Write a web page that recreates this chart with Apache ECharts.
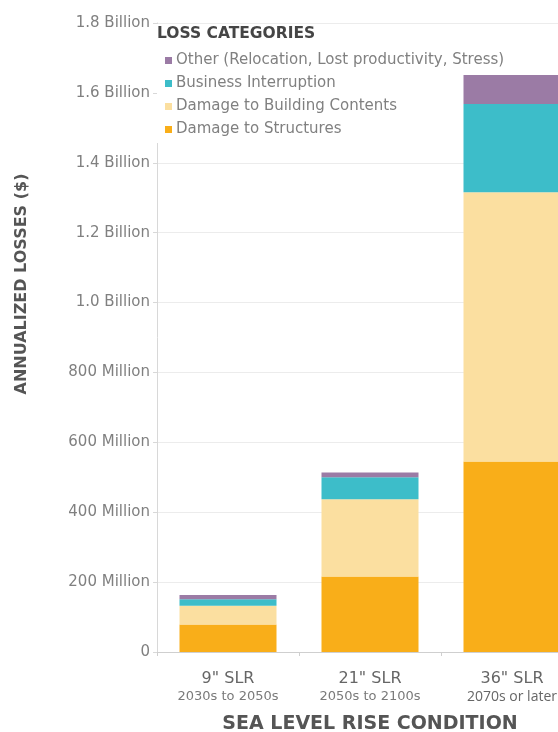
<!DOCTYPE html>
<html><head><meta charset="utf-8">
<script src="https://cdn.jsdelivr.net/npm/echarts@6/dist/echarts.min.js"></script>
<style>html,body{margin:0;padding:0;background:#fff}#c{width:558px;height:732px}</style>
</head><body><div id="c"></div>
<script>
// Data (values in millions of dollars)
const categories = ['9" SLR', '21" SLR', '36" SLR'];
const periods = ['2030s to 2050s', '2050s to 2100s', '2070s or later'];
const structures = [79, 216, 545];
const contents = [53, 221, 771];
const business = [19, 63, 252];
const other = [12, 14, 83];
const yTickLabels = ['0', '200 Million', '400 Million', '600 Million', '800 Million',
  '1.0 Billion', '1.2 Billion', '1.4 Billion', '1.6 Billion', '1.8 Billion'];
const legendTitle = 'LOSS CATEGORIES';
const names = {
  other: 'Other (Relocation, Lost productivity, Stress)',
  business: 'Business Interruption',
  contents: 'Damage to Building Contents',
  structures: 'Damage to Structures'
};

const FONT = 'DejaVu Sans';
const chart = echarts.init(document.getElementById('c'), null, {renderer: 'canvas'});
const mk = (name, data, color) => ({
  name, type: 'bar', stack: 'loss', data, barWidth: 97, z: 5,
  itemStyle: {color}, emphasis: {disabled: true}
});
chart.setOption({
  animation: false,
  backgroundColor: '#fff',
  title: {
    text: legendTitle, left: 152, top: 21,
    textStyle: {fontFamily: FONT, fontWeight: 'bold', fontSize: 15.5, color: '#454545'}
  },
  legend: {
    orient: 'vertical', left: 157, top: 24,
    padding: [29, 6, 6, 8],
    backgroundColor: '#fff',
    itemWidth: 7, itemHeight: 7, itemGap: 8,
    icon: 'rect',
    data: [names.other, names.business, names.contents, names.structures],
    textStyle: {fontFamily: FONT, fontSize: 15, color: '#808080', lineHeight: 14, padding: [0, 0, 0, -1]}
  },
  grid: {left: 157, right: -25, top: 23, bottom: 80, containLabel: false, outerBoundsMode: 'none'},
  xAxis: {
    type: 'category', data: categories,
    name: 'SEA LEVEL RISE CONDITION', nameLocation: 'middle', nameGap: 63,
    nameTextStyle: {fontFamily: FONT, fontWeight: 'bold', fontSize: 19, color: '#555'},
    axisLine: {lineStyle: {color: '#cfcfcf'}},
    axisTick: {show: true, length: 4, lineStyle: {color: '#cfcfcf'}},
    axisLabel: {
      margin: 18,
      formatter: (v, i) => '{a|' + v + '}\n' + (i === 2 ? '{c|' : '{b|') + periods[i] + '}',
      rich: {
        a: {fontFamily: FONT, fontSize: 16, color: '#666', lineHeight: 18},
        b: {fontFamily: FONT, fontSize: 13, color: '#7a7a7a', lineHeight: 18},
        c: {fontFamily: 'Open Sans', fontSize: 14, color: '#666', lineHeight: 18}
      }
    }
  },
  yAxis: {
    type: 'value', min: 0, max: 1800, interval: 200,
    axisLine: {show: true, lineStyle: {color: '#d8d8d8'}},
    axisTick: {show: true, length: 4, lineStyle: {color: '#d8d8d8'}},
    splitLine: {lineStyle: {color: '#ececec'}},
    axisLabel: {
      margin: 7, fontFamily: FONT, fontSize: 15, color: '#808080',
      formatter: v => yTickLabels[Math.round(v / 200)]
    }
  },
  graphic: [{
    type: 'text', x: 22, y: 284, rotation: Math.PI / 2,
    style: {text: 'ANNUALIZED LOSSES ($)', fontFamily: FONT, fontWeight: 'bold', fontSize: 16,
      fill: '#555', align: 'center', verticalAlign: 'middle'}
  }],
  series: [
    mk(names.structures, structures, '#f9ae19'),
    mk(names.contents, contents, '#fbdfa0'),
    mk(names.business, business, '#3dbdc9'),
    mk(names.other, other, '#9b7ba5')
  ]
});
</script>
</body></html>
